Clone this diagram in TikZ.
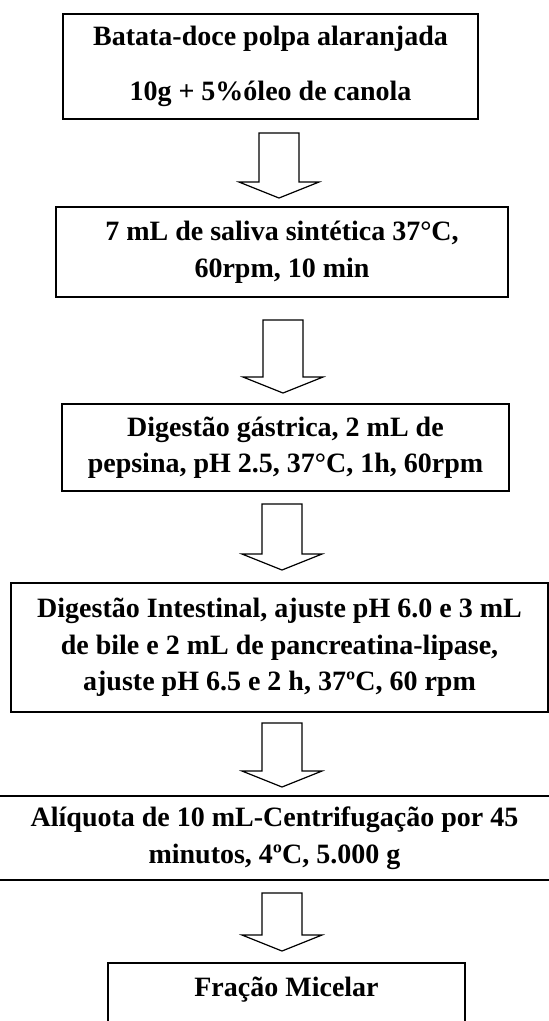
\documentclass[tikz,border=0pt]{standalone}
\usepackage{fontspec}
\setmainfont{Liberation Serif}
\usetikzlibrary{calc}

\newcommand{\flowarrow}[2]{% block arrow from shaft top #1 to tip #2
  \draw[arrowline] let \p1=(#1), \p2=(#2) in
    (\x1-20pt,\y1) -- (\x1+20pt,\y1) -- (\x1+20pt,\y2+16pt) -- (\x1+40pt,\y2+16pt)
    -- (\p2) -- (\x1-40pt,\y2+16pt) -- (\x1-20pt,\y2+16pt) -- cycle ;}

\begin{document}
\begin{tikzpicture}  % ------ Digestao in vitro : etapas --------
      [x=1pt, y=-1pt,
       box/.style={draw, line width=1.4pt, inner sep=0pt, align=center,
                   font=\fontsize{28}{36.5}\selectfont\bfseries},
       arrowline/.style={draw, line width=1.2pt, line join=miter}]

    \useasboundingbox (0,0) rectangle (549,1021);
    \clip (0,0) rectangle (549,1021);

    \node[box, minimum width=415, minimum height=105] (b1) at (270.5,66.5)
        {Batata-doce polpa alaranjada\\[18pt]10g + 5\%óleo de canola};
    \node[box, minimum width=452, minimum height=90] (b2) at (282,252)
        {7 mL de saliva sintética 37°C,\\60rpm, 10 min};
    \node[box, minimum width=447, minimum height=87] (b3) at (285.5,447.5)
        {Digestão gástrica, 2 mL de\\pepsina, pH 2.5, 37°C, 1h, 60rpm};
    \node[box, minimum width=537, minimum height=129] (b4) at (279.5,647.5)
        {Digestão Intestinal, ajuste pH 6.0 e 3 mL\\de bile e 2 mL de pancreatina-lipase,\\ajuste pH 6.5 e 2 h, 37ºC, 60 rpm};
    \node[box, minimum width=580, minimum height=84] (b5) at (274.5,838)
        {Alíquota de 10 mL-Centrifugação por 45\\minutos, 4ºC, 5.000 g};
    \node[box, minimum width=357, minimum height=100] (b6) at (286.5,1013) {};
    \node[box, draw=none] (t6) at (286.5,990) {Fração Micelar};

    \coordinate (A1) at (279,133);   \coordinate (T1) at (279,198);
    \coordinate (A2) at (283,320);   \coordinate (T2) at (283,393);
    \coordinate (A3) at (282,504);   \coordinate (T3) at (282,570);
    \coordinate (A4) at (282,723);   \coordinate (T4) at (282,787);
    \coordinate (A5) at (282,893);   \coordinate (T5) at (282,951);

    \flowarrow{A1}{T1}
    \flowarrow{A2}{T2}
    \flowarrow{A3}{T3}
    \flowarrow{A4}{T4}
    \flowarrow{A5}{T5}
\end{tikzpicture}
\end{document}
